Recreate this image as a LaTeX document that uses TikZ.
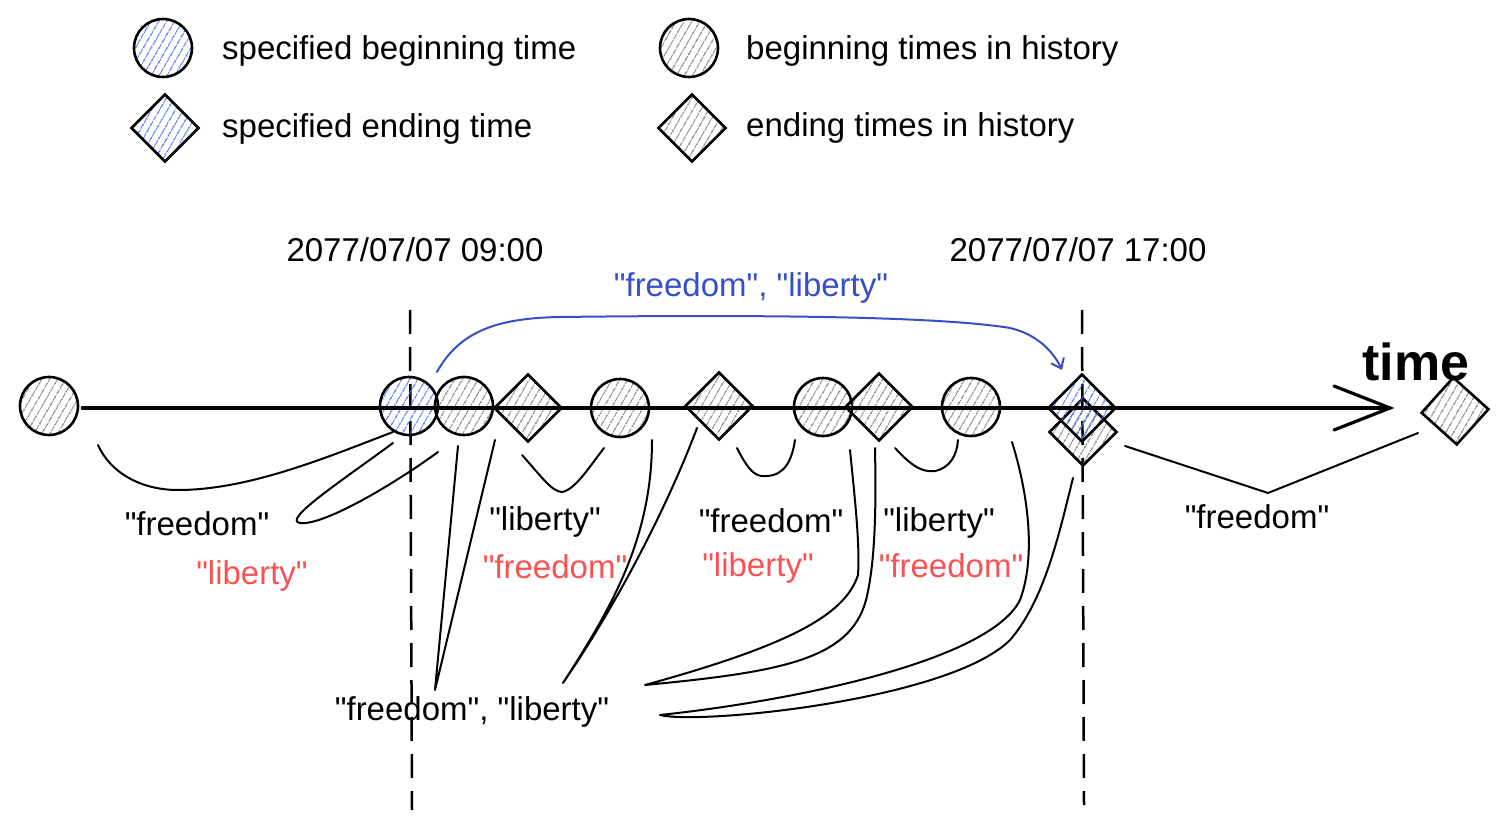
\documentclass[tikz,border=0pt]{standalone}
\usepackage{fontspec}
\setmainfont{Liberation Sans}[Ligatures=TeXOff]
\usetikzlibrary{shapes.geometric,patterns.meta,arrows.meta,calc}
\definecolor{hatchblue}{HTML}{4C6EF5}
\definecolor{hatchgray}{HTML}{7A828A}
\definecolor{lblue}{HTML}{364FC7}
\definecolor{lred}{HTML}{FA5252}
\newcommand{\qm}{\char"22\relax}
\begin{document}
\begin{tikzpicture}[x=1pt,y=-1pt,
  txt/.style={font=\fontsize{33}{40}\selectfont, inner sep=0pt, anchor=base},
  shp/.style={draw=black, line width=2.6pt, inner sep=0pt},
  hatch/.style={pattern={Lines[angle=60,distance=6.5pt,line width=1.1pt]}},
  gcirc/.style={shp, circle, minimum size=58pt, hatch, pattern color=hatchgray},
  bcirc/.style={shp, circle, minimum size=58pt, hatch, pattern color=hatchblue},
  gdiam/.style={shp, diamond, aspect=1, minimum size=68pt, hatch, pattern color=hatchgray},
  bdiam/.style={shp, diamond, aspect=1, minimum size=68pt, hatch, pattern color=hatchblue},
  link/.style={draw=black, line width=2pt, line cap=round, line join=round},
  guide/.style={draw=black, line width=2.5pt, dash pattern=on 24pt off 13pt},
  axis/.style={draw=black, line width=3.2pt, line cap=round},
]
\useasboundingbox (0,0) rectangle (1510,834);

% legend
\node[bcirc] (lb) at (163,48) {};
\node[txt, anchor=base west] (lbt) at (222,60) {specified beginning time};
\node[bdiam] (ld) at (165,128) {};
\node[txt, anchor=base west] (ldt) at (222,138) {specified ending time};
\node[gcirc] (lg) at (689,48) {};
\node[txt, anchor=base west] (lgt) at (746,60) {beginning times in history};
\node[gdiam] (lgd) at (692,128) {};
\node[txt, anchor=base west] (lgdt) at (746,137) {ending times in history};

% date labels
\node[txt] (d1) at (415,262) {2077/07/07 09:00};
\node[txt] (d2) at (1078,262) {2077/07/07 17:00};
\node[txt, text=lblue] (bl) at (751,297) {\qm freedom\qm, \qm liberty\qm};

% guides
\coordinate (g1a) at (410,310);
\coordinate (g1b) at (412,810);
\coordinate (g2a) at (1082,310);
\coordinate (g2b) at (1084,805);
\draw[guide] (g1a) -- (g1b);
\draw[guide] (g2a) -- (g2b);

% nodes on timeline
\node[gcirc] (h0) at (49,406) {};
\node[bcirc] (sb) at (409,406) {};
\node[gcirc] (h1) at (464,406) {};
\node[gdiam] (e1) at (528,408) {};
\node[gcirc] (h2) at (620,408) {};
\node[gdiam] (e2) at (719,406) {};
\node[gcirc] (h3) at (823,407) {};
\node[gdiam] (e3) at (879,407) {};
\node[gcirc] (h4) at (971,407) {};
\node[gdiam] (e4) at (1083,432) {};
\node[bdiam] (se) at (1082,408) {};
\node[gdiam, rotate=3] (e5) at (1455,411) {};

% axis
\coordinate (tip) at (1390,408);
\coordinate (barbA) at (1334,386);
\coordinate (barbB) at (1334,430);
\draw[axis] (h0.east) ++(3,2) -- (tip);
\draw[axis, line join=miter] (barbA) -- (tip) -- (barbB);
\node[font=\bfseries\fontsize{52}{58}\selectfont, inner sep=0pt] (tm) at (1416,362) {time};

% blue bracket
\draw[lblue, line width=2pt, line cap=round, -{Straight Barb[length=9pt,width=14pt]}]
  ($(sb)+(28,-34)$) .. controls (460,330) and (500,318) .. (560,317)
  .. controls (800,314) and (950,318) .. (1010,328)
  .. controls (1040,335) and (1055,355) .. ($(se)+(-20,-38)$);

% connectors
\draw[link] ($(h0)+(49,39)$) .. controls (110,472) and (140,490) .. (178,490)
  .. controls (250,490) and (330,456) .. ($(sb)+(-16,26)$);
\node[txt] (t1) at (197,535) {\qm freedom\qm};

\draw[link] ($(sb)+(-16,37)$) .. controls (340,482) and (282,520) .. (300,523)
  .. controls (325,526) and (400,480) .. ($(h1)+(-26,46)$);
\node[txt, text=lred] (t2) at (252,584) {\qm liberty\qm};

\draw[link] ($(h1)+(-6,40)$) -- (435,690) -- ($(e1)+(-33,32)$);
\node[txt] (t3) at (472,720) {\qm freedom\qm, \qm liberty\qm};

\draw[link] ($(h2)+(32,32)$) .. controls (652,540) and (610,610) .. (563,683)
  .. controls (620,600) and (670,500) .. ($(e2)+(-22,22)$);

\draw[link] ($(e1)+(-6,47)$) .. controls (540,475) and (552,492) .. (562,492)
  .. controls (575,490) and (590,466) .. ($(h2)+(-16,40)$);
\node[txt] (t4) at (545,530) {\qm liberty\qm};
\node[txt, text=lred] (t5) at (555,578) {\qm freedom\qm};

\draw[link] ($(e2)+(18,42)$) .. controls (750,474) and (757,477) .. (767,476)
  .. controls (785,475) and (792,460) .. ($(h3)+(-28,33)$);
\node[txt] (t6) at (771,532) {\qm freedom\qm};
\node[txt, text=lred] (t7) at (758,576) {\qm liberty\qm};

\draw[link] ($(e3)+(16,41)$) .. controls (915,470) and (925,472) .. (935,471)
  .. controls (950,468) and (957,455) .. ($(h4)+(-13,33)$);
\node[txt] (t8) at (939,531) {\qm liberty\qm};
\node[txt, text=lred] (t9) at (951,577) {\qm freedom\qm};

\draw[link] ($(h3)+(27,43)$) .. controls (855,500) and (860,545) .. (858,575)
  .. controls (845,615) and (790,645) .. (645,685)
  .. controls (780,672) and (850,660) .. (866,600)
  .. controls (876,560) and (876,500) .. ($(e3)+(-4,41)$);

\draw[link] ($(h4)+(41,35)$) .. controls (1030,500) and (1035,560) .. (1020,600)
  .. controls (990,660) and (800,700) .. (660,715)
  .. controls (700,725) and (950,700) .. (1010,640)
  .. controls (1045,600) and (1060,530) .. ($(e4)+(-10,46)$);

\coordinate (v5) at (1268,493);
\draw[link] ($(e4)+(42,14)$) -- (v5) -- ($(e5)+(-37,22)$);
\node[txt] (t10) at (1257,528) {\qm freedom\qm};
\end{tikzpicture}
\end{document}
